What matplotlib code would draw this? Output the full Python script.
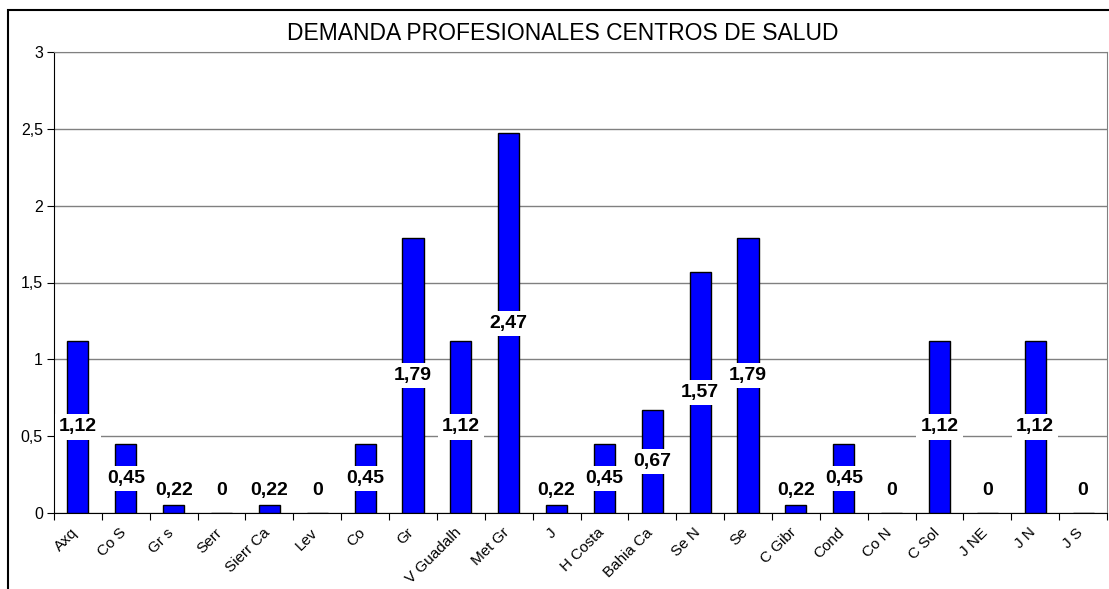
import matplotlib
matplotlib.use("Agg")
import matplotlib.pyplot as plt
from matplotlib.patches import Rectangle
import numpy as np

plt.rcParams['font.family'] = ['Liberation Sans', 'DejaVu Sans']

# datos
centros = ['Axq', 'Co S', 'Gr s', 'Serr', 'Sierr Ca', 'Lev', 'Co', 'Gr',
           'V Guadalh', 'Met Gr', 'J', 'H Costa', 'Bahia Ca', 'Se N', 'Se',
           'C Gibr', 'Cond', 'Co N', 'C Sol', 'J NE', 'J N', 'J S']
# valores de las etiquetas
demanda = [1.12, 0.45, 0.22, 0, 0.22, 0, 0.45, 1.79, 1.12, 2.47, 0.22,
           0.45, 0.67, 1.57, 1.79, 0.22, 0.45, 0, 1.12, 0, 1.12, 0]
# altura de las barras tal como se dibujan
alturas = [1.12, 0.45, 0.05, 0, 0.05, 0, 0.45, 1.79, 1.12, 2.47, 0.05,
           0.45, 0.67, 1.57, 1.79, 0.05, 0.45, 0, 1.12, 0, 1.12, 0]
y_ticks = [0, 0.5, 1, 1.5, 2, 2.5, 3]
y_labels = ['0', '0,5', '1', '1,5', '2', '2,5', '3']

fig = plt.figure(figsize=(11.09, 5.89), dpi=100)
ax = fig.add_axes([54 / 1109, 1 - 513 / 589, 1053 / 1109, 461 / 589])

x = np.arange(len(centros))
ax.bar(x, alturas, width=0.44, color='#0000ff', edgecolor='black',
       linewidth=1, zorder=3)

for xi, v in zip(x, demanda):
    txt = ('%.2f' % v).replace('.', ',') if v else '0'
    ax.text(xi, max(v / 2, 0.145), txt, ha='center', va='center',
            fontsize=14, fontweight='bold', zorder=5,
            bbox=dict(facecolor='white', edgecolor='none', pad=3))

ax.set_xlim(-0.5, len(centros) - 0.5)
ax.set_ylim(0, 3)
ax.set_yticks(y_ticks)
ax.set_yticklabels(y_labels, fontsize=11.5)
ax.yaxis.grid(True, color='#808080', linewidth=1, zorder=0)

# ticks entre categorias, etiquetas giradas bajo el centro de cada barra
ax.set_xticks(np.arange(-0.5, len(centros), 1))
ax.set_xticklabels([])
for xi, nombre in zip(x, centros):
    ax.annotate(nombre, (xi, 0), xycoords=('data', 'axes fraction'),
                xytext=(-5, -9), textcoords='offset points',
                rotation=45, ha='right', va='top', rotation_mode='anchor',
                fontsize=11)
ax.tick_params(axis='x', which='major', length=5, direction='out')
ax.tick_params(axis='y', length=5, direction='out', pad=3)

for s in ['top', 'right']:
    ax.spines[s].set_color('#808080')
for s in ['left', 'bottom']:
    ax.spines[s].set_color('black')

fig.text(563 / 1109, 1 - 33 / 589, 'DEMANDA PROFESIONALES CENTROS DE SALUD',
         ha='center', va='center', fontsize=16.5)

fig.patches.append(Rectangle((7.5 / 1109, -0.1), 1.2, 1.1 - 10.5 / 589,
                             transform=fig.transFigure, fill=False,
                             edgecolor='black', linewidth=1.5))

fig.savefig('out.png', dpi=100)
